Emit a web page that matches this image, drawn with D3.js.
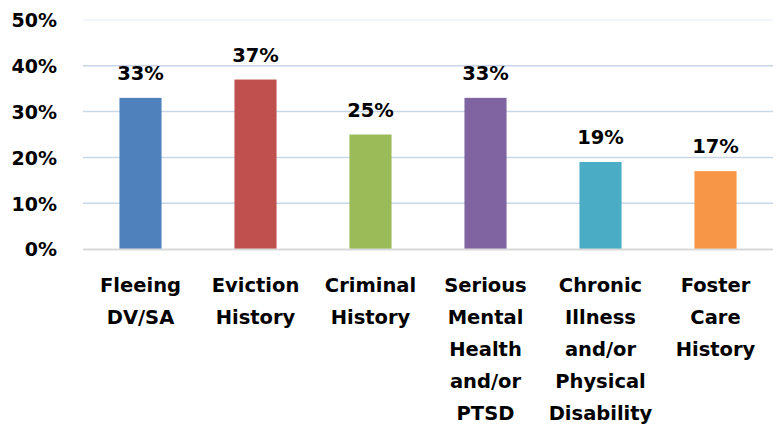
<!DOCTYPE html>
<html>
<head>
<meta charset="utf-8">
<script src="https://cdn.jsdelivr.net/npm/d3@7"></script>
<style>
  body { margin: 0; background: #fff; }
  text { font-family: "DejaVu Sans", sans-serif; font-weight: bold; fill: #000; }
</style>
</head>
<body>
<div id="chart"></div>
<script>
// chart data
var categories = ["Fleeing DV/SA", "Eviction History", "Criminal History",
  "Serious Mental Health and/or PTSD", "Chronic Illness and/or Physical Disability", "Foster Care History"];
var labelLines = [
  ["Fleeing", "DV/SA"],
  ["Eviction", "History"],
  ["Criminal", "History"],
  ["Serious", "Mental", "Health", "and/or", "PTSD"],
  ["Chronic", "Illness", "and/or", "Physical", "Disability"],
  ["Foster", "Care", "History"]
];
var values = [0.33, 0.37, 0.25, 0.33, 0.19, 0.17];
var colors = ["#4f81bd", "#c0504d", "#9bbb59", "#8064a2", "#4bacc6", "#f79646"];
var yTicks = [0, 0.1, 0.2, 0.3, 0.4, 0.5];

drawChart("chart");

function drawChart(container){
  var width = 780, height = 426;
  var plot = { left: 83, right: 773, top: 20, bottom: 249 };

  var svg = d3.select("#"+container).append("svg")
    .attr("width", width)
    .attr("height", height);

  var x = d3.scaleBand()
    .domain(categories)
    .range([plot.left, plot.right])
    .paddingInner(0.634)
    .paddingOuter(0.317);

  var y = d3.scaleLinear()
    .domain([0, 0.5])
    .range([plot.bottom, plot.top]);

  // gridlines
  svg.selectAll(".grid")
    .data(yTicks.filter(function(d){ return d > 0; }))
    .enter().append("line")
    .attr("class", "grid")
    .attr("x1", plot.left)
    .attr("x2", plot.right)
    .attr("y1", function(d){ return y(d); })
    .attr("y2", function(d){ return y(d); })
    .attr("stroke", function(d){ return d === 0.5 ? "#eef2f9" : "#c9d6ea"; })
    .attr("stroke-width", 1.5);

  // y axis labels
  var yAxis = d3.axisLeft(y)
    .tickValues(yTicks)
    .tickFormat(d3.format(".0%"))
    .tickSize(0)
    .tickPadding(0);
  var yg = svg.append("g")
    .attr("transform", "translate(57,0)")
    .call(yAxis);
  yg.select(".domain").remove();
  yg.selectAll("text")
    .attr("font-family", "DejaVu Sans")
    .attr("font-size", 19)
    .attr("font-weight", "bold")
    .attr("fill", "#000")
    .attr("dy", "0.36em");

  // bars
  svg.selectAll(".bar")
    .data(values)
    .enter().append("rect")
    .attr("class", "bar")
    .attr("x", function(d, i){ return x(categories[i]); })
    .attr("width", x.bandwidth())
    .attr("y", function(d){ return y(d); })
    .attr("height", function(d){ return y(0) - y(d); })
    .attr("fill", function(d, i){ return colors[i]; });

  // baseline
  svg.append("line")
    .attr("x1", plot.left)
    .attr("x2", plot.right)
    .attr("y1", y(0) + 0.5)
    .attr("y2", y(0) + 0.5)
    .attr("stroke", "#d9d9d9")
    .attr("stroke-width", 2);

  // value labels
  svg.selectAll(".val")
    .data(values)
    .enter().append("text")
    .attr("class", "val")
    .attr("x", function(d, i){ return x(categories[i]) + x.bandwidth()/2; })
    .attr("y", function(d){ return y(d) - 18; })
    .attr("text-anchor", "middle")
    .attr("font-size", 19.5)
    .text(function(d){ return d3.format(".0%")(d); });

  // category labels
  var cat = svg.selectAll(".cat")
    .data(labelLines)
    .enter().append("text")
    .attr("class", "cat")
    .attr("text-anchor", "middle")
    .attr("font-size", 19.5);
  cat.selectAll("tspan")
    .data(function(d, i){ return d.map(function(s){ return { s: s, i: i }; }); })
    .enter().append("tspan")
    .attr("x", function(d){ return x(categories[d.i]) + x.bandwidth()/2; })
    .attr("y", function(d, j){ return 292 + j*32; })
    .text(function(d){ return d.s; });
}
</script>
</body>
</html>
